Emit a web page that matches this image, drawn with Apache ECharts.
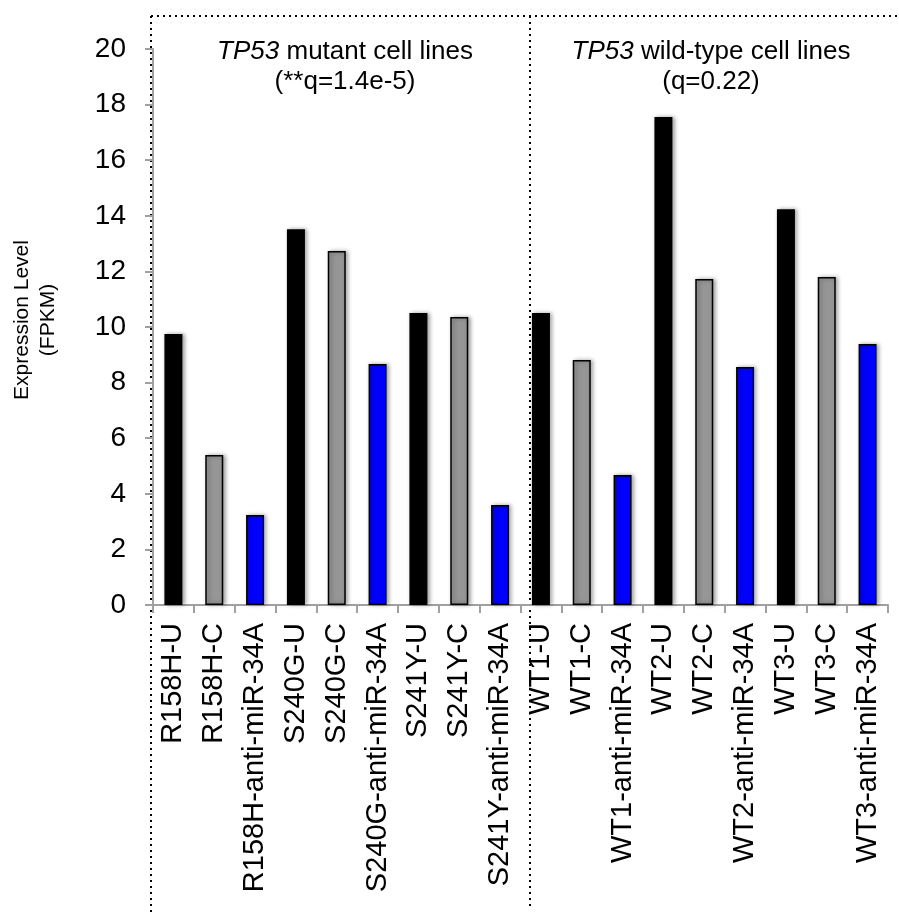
<!DOCTYPE html>
<html>
<head>
<meta charset="utf-8">
<script src="https://cdn.jsdelivr.net/npm/echarts@6/dist/echarts.min.js"></script>
<style>html,body{margin:0;padding:0;background:#fff;}#c{width:899px;height:915px;}</style>
</head>
<body>
<div id="c"></div>
<script>
const categories = ['R158H-U','R158H-C','R158H-anti-miR-34A','S240G-U','S240G-C','S240G-anti-miR-34A','S241Y-U','S241Y-C','S241Y-anti-miR-34A','WT1-U','WT1-C','WT1-anti-miR-34A','WT2-U','WT2-C','WT2-anti-miR-34A','WT3-U','WT3-C','WT3-anti-miR-34A'];
const values = [9.75,5.40,3.24,13.52,12.73,8.67,10.50,10.36,3.60,10.50,8.81,4.68,17.55,11.73,8.56,14.24,11.80,9.39];
const conditions = ['U','C','A','U','C','A','U','C','A','U','C','A','U','C','A','U','C','A'];
const conditionColors = {U:'#000000', C:'#969696', A:'#0000ff'};
const yTicks = [0,2,4,6,8,10,12,14,16,18,20];

const FONT = 'Liberation Sans, Arial, Helvetica, sans-serif';
const chart = echarts.init(document.getElementById('c'));
const dots = {stroke:'#000', lineWidth:2, lineDash:[2,4]};
chart.setOption({
  animation:false,
  backgroundColor:'#fff',
  grid:{left:153, right:11, top:49, bottom:310, containLabel:false},
  title:[
    {text:'{i|TP53} mutant cell lines\n(**q=1.4e-5)', left:340, top:32, textAlign:'center',
     textStyle:{fontFamily:FONT, fontSize:26, fontWeight:'normal', color:'#000', lineHeight:30, align:'center',
       rich:{i:{fontStyle:'italic', fontFamily:FONT, fontSize:26, color:'#000', lineHeight:30}}}},
    {text:'{i|TP53} wild-type cell lines\n(q=0.22)', left:706, top:32, textAlign:'center',
     textStyle:{fontFamily:FONT, fontSize:26, fontWeight:'normal', color:'#000', lineHeight:30, align:'center',
       rich:{i:{fontStyle:'italic', fontFamily:FONT, fontSize:26, color:'#000', lineHeight:30}}}}
  ],
  xAxis:{
    type:'category', data:categories,
    axisLine:{lineStyle:{color:'#a0a0a0', width:2}},
    axisTick:{show:true, length:8, lineStyle:{color:'#a0a0a0', width:2}},
    axisLabel:{rotate:90, margin:18, fontFamily:FONT, fontSize:29, color:'#000', interval:0}
  },
  yAxis:{
    type:'value', min:0, max:20, interval:2,
    splitLine:{show:false},
    axisLine:{show:true, lineStyle:{color:'#a0a0a0', width:2}},
    axisTick:{show:true, length:8, lineStyle:{color:'#a0a0a0', width:2}},
    axisLabel:{margin:27, fontFamily:FONT, fontSize:28, color:'#000',
      formatter:v => yTicks.includes(v) ? String(v) : ''}
  },
  series:[{
    type:'bar', barWidth:18,
    data: values.map((v,i)=>({value:v, itemStyle:{color:conditionColors[conditions[i]]}})),
    itemStyle:{borderColor:'#000', borderWidth:1.5, shadowColor:'rgba(0,0,0,0.35)', shadowBlur:4, shadowOffsetX:2, shadowOffsetY:0}
  }],
  graphic:[
    {type:'line', shape:{x1:151, y1:16, x2:899, y2:16}, style:dots, z:-1},
    {type:'line', shape:{x1:151, y1:16, x2:151, y2:915}, style:dots, z:-1},
    {type:'line', shape:{x1:530, y1:16, x2:530, y2:910}, style:dots, z:-1},
    {type:'text', x:35, y:320, rotation:Math.PI/2,
      style:{text:'Expression Level\n(FPKM)', fontFamily:FONT, fontSize:21, lineHeight:26, fill:'#000', align:'center', verticalAlign:'middle'}}
  ]
});
</script>
</body>
</html>
